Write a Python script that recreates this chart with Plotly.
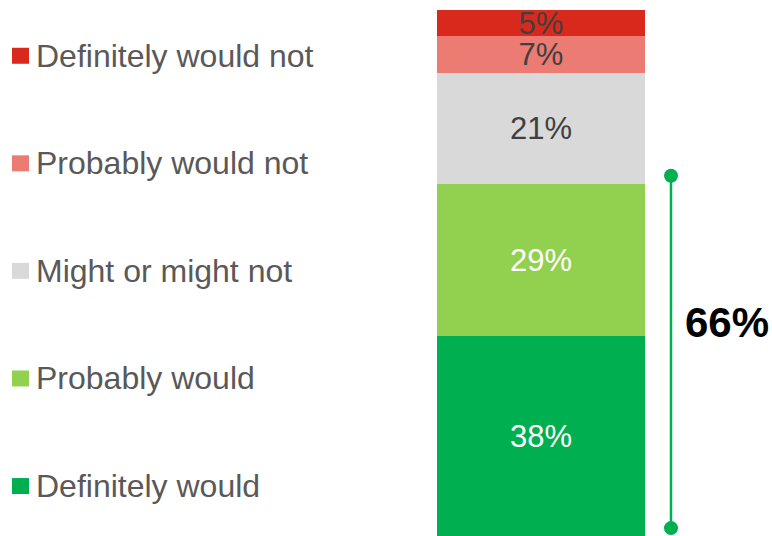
import plotly.graph_objects as go

categories = ["Definitely would", "Probably would", "Might or might not", "Probably would not", "Definitely would not"]
values = [38, 29, 21, 7, 5]
colors = ["#00B050", "#92D050", "#D9D9D9", "#EC7B73", "#D9291C"]
label_colors = ["#FFFFFF", "#FFFFFF", "#404040", "#404040", "#404040"]
top2_label = "66%"

FONT = "Liberation Sans, Arial, sans-serif"
fig = go.Figure()

for cat, v, c, lc in zip(categories, values, colors, label_colors):
    fig.add_trace(go.Bar(
        x=[0], y=[v], name=cat, marker=dict(color=c, line=dict(width=0)),
        width=1, text=[f"{v}%"], textposition="inside", insidetextanchor="middle",
        constraintext="none", textangle=0,
        textfont=dict(family=FONT, size=31, color=lc), showlegend=False, hoverinfo="skip",
    ))

# bracket for top-2 box
top2 = values[0] + values[1]
fig.add_trace(go.Scatter(
    x=[0.625, 0.625], y=[1.5, top2 + 1.5], mode="lines+markers",
    line=dict(color="#00B050", width=2.5), marker=dict(color="#00B050", size=14),
    showlegend=False, hoverinfo="skip",
))
fig.add_annotation(x=0.685, y=40.5, xref="x", yref="y", text=f"<b>{top2_label}</b>",
                   showarrow=False, xanchor="left", yanchor="middle",
                   font=dict(family=FONT, size=42, color="#000000"))

# legend (top to bottom: reversed order)
leg_y = [0.095, 0.2995, 0.504, 0.7085, 0.913]
for cat, c, yy in zip(categories, colors, leg_y):
    fig.add_shape(type="rect", xref="paper", yref="paper",
                  x0=12/772, x1=29/772, y0=yy - 8/526, y1=yy + 8/526,
                  fillcolor=c, line=dict(width=0))
    fig.add_annotation(x=34/772, y=yy, xref="paper", yref="paper", text=cat,
                       showarrow=False, xanchor="left", yanchor="middle",
                       font=dict(family=FONT, size=32, color="#595959"))

fig.update_layout(
    width=772, height=536, barmode="stack",
    margin=dict(l=0, r=0, t=10, b=0),
    paper_bgcolor="white", plot_bgcolor="white",
    xaxis=dict(range=[-541/208, (772-541)/208], visible=False, fixedrange=True),
    yaxis=dict(range=[0, 100], visible=False, fixedrange=True),
    showlegend=False, bargap=0,
)
fig.write_html("out.html", post_script="document.body.style.margin='0';",
               config={"displayModeBar": False})
